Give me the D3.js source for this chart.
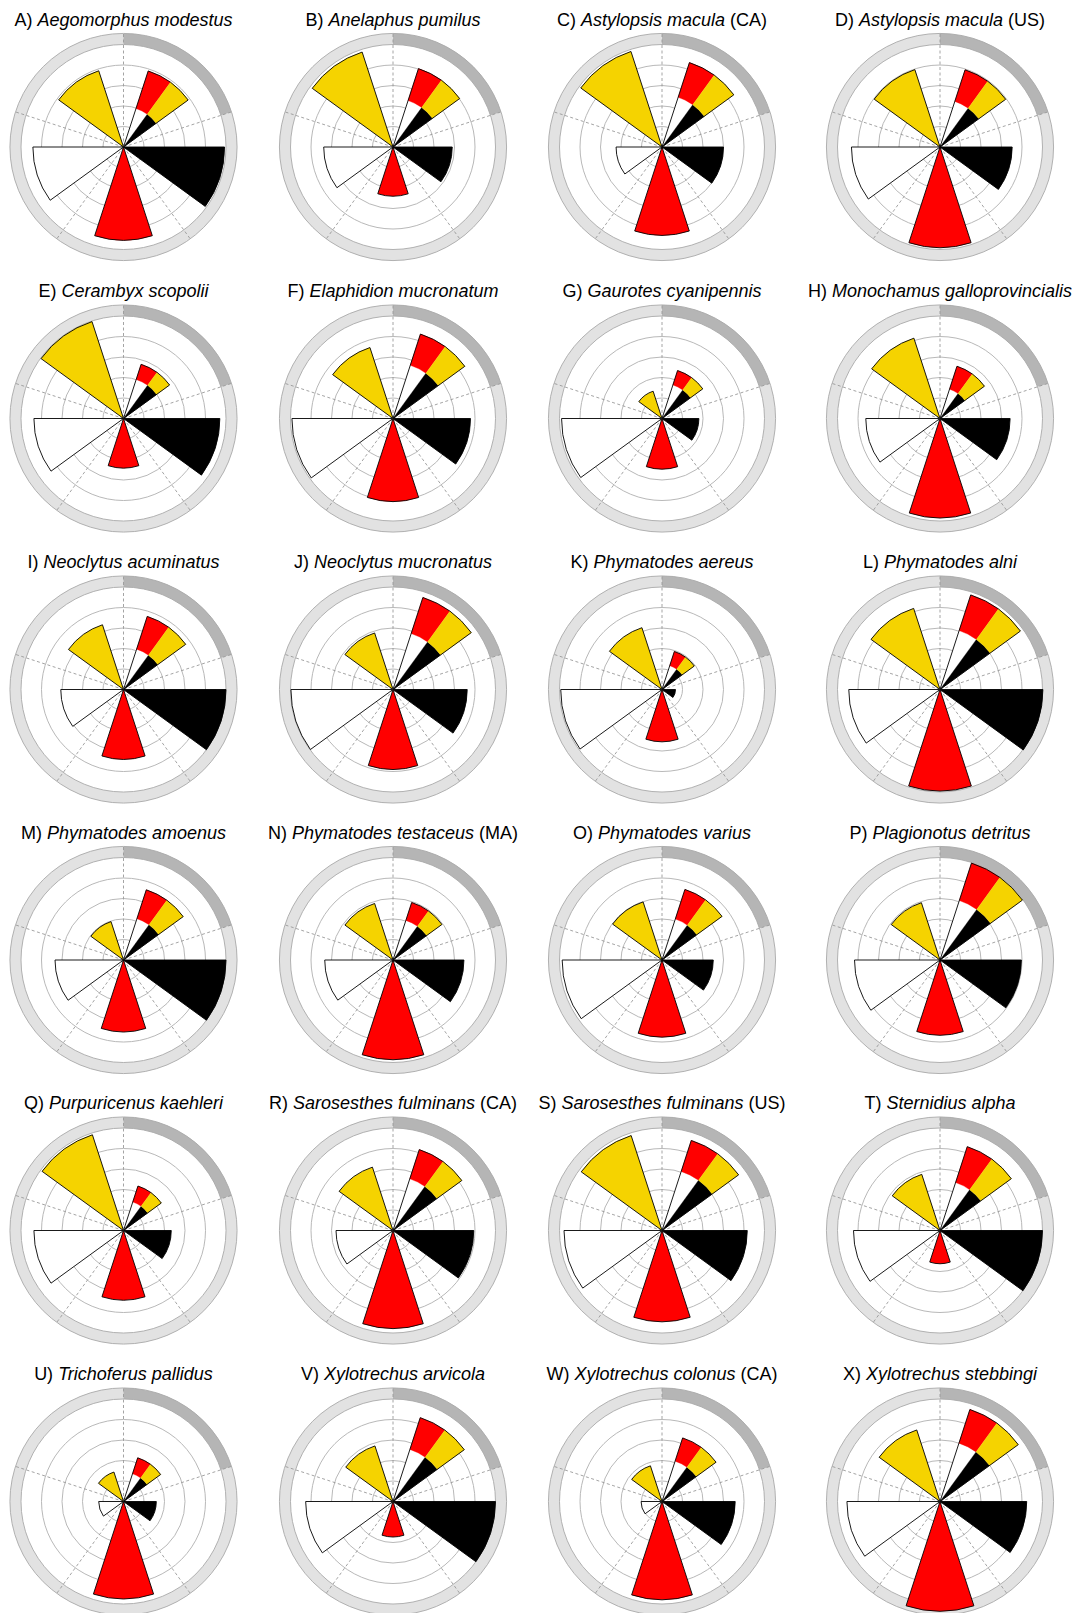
<!DOCTYPE html>
<html>
<head>
<meta charset="utf-8">
<script src="https://cdn.jsdelivr.net/npm/d3@7"></script>
<style>
  body { margin: 0; background: #fff; }
  svg text { font-family: "Liberation Sans", Arial, Helvetica, sans-serif; }
</style>
</head>
<body>
<svg id="chart" width="1076" height="1613"></svg>
<script>
// Panel labels and species
const panelLetters = ["A","B","C","D","E","F","G","H","I","J","K","L",
                      "M","N","O","P","Q","R","S","T","U","V","W","X"];
const species = [
  "Aegomorphus modestus", "Anelaphus pumilus", "Astylopsis macula", "Astylopsis macula",
  "Cerambyx scopolii", "Elaphidion mucronatum", "Gaurotes cyanipennis", "Monochamus galloprovincialis",
  "Neoclytus acuminatus", "Neoclytus mucronatus", "Phymatodes aereus", "Phymatodes alni",
  "Phymatodes amoenus", "Phymatodes testaceus", "Phymatodes varius", "Plagionotus detritus",
  "Purpuricenus kaehleri", "Sarosesthes fulminans", "Sarosesthes fulminans", "Sternidius alpha",
  "Trichoferus pallidus", "Xylotrechus arvicola", "Xylotrechus colonus", "Xylotrechus stebbingi"
];
const region = ["", "", "CA", "US", "", "", "", "", "", "", "", "",
                "", "MA", "", "", "", "CA", "US", "", "", "", "CA", ""];

// Sector categories (clockwise from the top)
const sectors = ["mixed", "black", "red", "white", "yellow"];

// Bar lengths per panel (radial units; rings at 1..4, border band at 5)
const mixedInner = [1.97, 2.38, 2.55, 2.34, 2.00, 2.73, 1.72, 1.50, 2.07, 2.87, 1.22, 3.02,
                    2.12, 2.03, 2.10, 3.05, 1.46, 2.65, 3.03, 2.46, 1.42, 2.67, 2.07, 2.99];
const mixedOuter = [3.90, 4.02, 4.33, 3.96, 2.78, 4.33, 2.46, 2.68, 3.75, 4.72, 1.95, 4.85,
                    3.60, 2.95, 3.62, 4.97, 2.28, 4.15, 4.62, 4.30, 2.24, 4.30, 3.26, 4.72];
const blackVals  = [4.93, 2.89, 3.00, 3.52, 4.70, 3.78, 1.80, 3.42, 5.00, 3.62, 0.66, 5.02,
                    5.00, 3.46, 2.50, 3.97, 2.33, 3.94, 4.16, 5.00, 1.60, 5.00, 3.57, 4.23];
const redVals    = [4.55, 2.40, 4.31, 4.91, 2.42, 4.05, 2.47, 4.85, 3.41, 3.90, 2.55, 4.95,
                    3.51, 4.86, 3.76, 3.67, 3.40, 4.78, 4.45, 1.62, 4.75, 1.73, 4.79, 5.35];
const whiteVals  = [4.42, 3.38, 2.24, 4.32, 4.37, 4.93, 4.90, 3.62, 3.06, 4.98, 4.94, 4.45,
                    3.34, 3.33, 4.87, 4.17, 4.37, 2.78, 4.78, 4.22, 1.21, 4.26, 1.02, 4.54];
const yellowVals = [3.91, 4.87, 4.90, 3.97, 4.97, 3.64, 1.40, 4.12, 3.32, 2.90, 3.17, 4.16,
                    1.97, 2.90, 2.98, 2.94, 4.91, 3.25, 4.87, 2.88, 1.51, 2.85, 1.83, 3.67];
const gridRings = [1, 2, 3, 4];

// Layout
const colX = [123.5, 393, 662, 940];
const rowY = [147, 418.5, 689.5, 960, 1230.5, 1501.5];

const svg = d3.select("#chart");

const rScale = d3.scaleLinear().domain([0, 5]).range([0, 102.5]);
const bandOuter = rScale(5.54);

// 5 sectors of 72 degrees, bars take the middle half of each
const aScale = d3.scaleBand().domain(sectors).range([0, 2 * Math.PI])
  .paddingInner(0.5).paddingOuter(0.25);
const sectorStep = aScale.step();

const arc = d3.arc();
const colors = { black: "#000000", red: "#ff0000", white: "#ffffff", yellow: "#f5d300" };

species.forEach((name, i) => {
  const cx = colX[i % 4], cy = rowY[Math.floor(i / 4)];
  const g = svg.append("g").attr("transform", `translate(${cx},${cy})`);

  // outer band
  g.append("path")
    .attr("d", arc({ innerRadius: rScale(5), outerRadius: bandOuter, startAngle: 0, endAngle: 2 * Math.PI }))
    .attr("fill", "#e2e2e2");
  g.append("path")
    .attr("d", arc({ innerRadius: rScale(5), outerRadius: bandOuter, startAngle: 0, endAngle: sectorStep }))
    .attr("fill", "#b5b5b5");
  [rScale(5), bandOuter].forEach(r => {
    g.append("circle").attr("r", r).attr("fill", "none")
      .attr("stroke", "#a9a9a9").attr("stroke-width", 0.9);
  });

  // grid rings
  g.selectAll("circle.grid").data(gridRings).join("circle")
    .attr("class", "grid")
    .attr("r", d => rScale(d))
    .attr("fill", "none").attr("stroke", "#b0b0b0").attr("stroke-width", 0.9);

  // sector boundaries
  g.selectAll("line.spoke").data(d3.range(5)).join("line")
    .attr("class", "spoke")
    .attr("x1", 0).attr("y1", 0)
    .attr("x2", k => bandOuter * Math.sin(k * sectorStep))
    .attr("y2", k => -bandOuter * Math.cos(k * sectorStep))
    .attr("stroke", "#9a9a9a").attr("stroke-width", 0.9)
    .attr("stroke-dasharray", "3,2.5");

  // single-colour bars
  const bars = [
    { key: "black", v: blackVals[i] },
    { key: "red", v: redVals[i] },
    { key: "white", v: whiteVals[i] },
    { key: "yellow", v: yellowVals[i] }
  ];
  g.selectAll("path.bar").data(bars).join("path")
    .attr("class", "bar")
    .attr("d", d => arc({
      innerRadius: 0, outerRadius: rScale(d.v),
      startAngle: aScale(d.key), endAngle: aScale(d.key) + aScale.bandwidth()
    }))
    .attr("fill", d => colors[d.key])
    .attr("stroke", "#000").attr("stroke-width", 0.9).attr("stroke-linejoin", "miter");

  // mixed bar: left half white->red, right half black->yellow
  const a0 = aScale("mixed"), aw = aScale.bandwidth(), am = a0 + aw / 2;
  const rIn = rScale(mixedInner[i]), rOut = rScale(mixedOuter[i]);
  const pieces = [
    { r0: 0, r1: rIn, s: a0, e: am, c: colors.white },
    { r0: rIn, r1: rOut, s: a0, e: am, c: colors.red },
    { r0: 0, r1: rIn, s: am, e: a0 + aw, c: colors.black },
    { r0: rIn, r1: rOut, s: am, e: a0 + aw, c: colors.yellow }
  ];
  g.selectAll("path.mix").data(pieces).join("path")
    .attr("class", "mix")
    .attr("d", d => arc({ innerRadius: d.r0, outerRadius: d.r1, startAngle: d.s, endAngle: d.e }))
    .attr("fill", d => d.c).attr("stroke", d => d.c).attr("stroke-width", 0.3);
  g.append("path")
    .attr("d", arc({ innerRadius: 0, outerRadius: rOut, startAngle: a0, endAngle: a0 + aw }))
    .attr("fill", "none").attr("stroke", "#000").attr("stroke-width", 0.9);

  // title
  const t = svg.append("text")
    .attr("x", cx).attr("y", cy - 121.5)
    .attr("text-anchor", "middle")
    .attr("font-size", 18).attr("fill", "#000");
  t.append("tspan").text(panelLetters[i] + ") ");
  t.append("tspan").attr("font-style", "italic").text(name);
  if (region[i]) t.append("tspan").text(" (" + region[i] + ")");
});
</script>
</body>
</html>
